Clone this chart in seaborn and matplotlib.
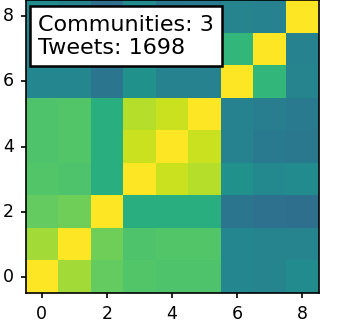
import numpy as np
import matplotlib
matplotlib.use("Agg")
import matplotlib.pyplot as plt
import seaborn as sns

# community similarity matrix (row 0 is drawn at the bottom)
row0 = [1.00, 0.86, 0.76, 0.73, 0.72, 0.72, 0.46, 0.45, 0.48]
row1 = [0.86, 1.00, 0.78, 0.72, 0.73, 0.73, 0.46, 0.45, 0.45]
row2 = [0.76, 0.78, 1.00, 0.63, 0.63, 0.63, 0.39, 0.37, 0.36]
row3 = [0.73, 0.72, 0.63, 1.00, 0.92, 0.89, 0.50, 0.47, 0.48]
row4 = [0.72, 0.73, 0.63, 0.92, 1.00, 0.92, 0.44, 0.41, 0.40]
row5 = [0.72, 0.73, 0.63, 0.89, 0.92, 1.00, 0.44, 0.42, 0.41]
row6 = [0.46, 0.46, 0.39, 0.50, 0.44, 0.44, 1.00, 0.66, 0.45]
row7 = [0.45, 0.45, 0.37, 0.47, 0.41, 0.42, 0.66, 1.00, 0.44]
row8 = [0.48, 0.45, 0.36, 0.48, 0.40, 0.41, 0.45, 0.44, 1.00]
sim = np.array([row0, row1, row2, row3, row4, row5, row6, row7, row8])

tick_vals = [0, 2, 4, 6, 8]
n_communities = 3
n_tweets = 1698

fig = plt.figure(figsize=(3.4, 3.25), dpi=100)
ax = fig.add_axes([25/340, 32/325, 294/340, 293/325])

sns.heatmap(sim, cmap="viridis", vmin=0, vmax=1, cbar=False, square=True, ax=ax)
ax.invert_yaxis()
ax.set_xlim(0, 9)
ax.set_ylim(0, 9)

ax.set_xticks([v + 0.5 for v in tick_vals])
ax.set_xticklabels([str(v) for v in tick_vals], rotation=0)
ax.set_yticks([v + 0.5 for v in tick_vals])
ax.set_yticklabels([str(v) for v in tick_vals], rotation=0, va="center")
ax.tick_params(labelsize=12.5, length=3.5, width=1.2, pad=5)

for s in ax.spines.values():
    s.set_visible(True)
    s.set_linewidth(1.2)

ax.text(0.0425, 0.95, f"Communities: {n_communities}\nTweets: {n_tweets}",
        transform=ax.transAxes, fontsize=16, va="top", ha="left",
        linespacing=1.18,
        bbox=dict(boxstyle="square,pad=0.38", facecolor="white",
                  edgecolor="black", linewidth=1.8))

fig.savefig("out.png", dpi=100)
